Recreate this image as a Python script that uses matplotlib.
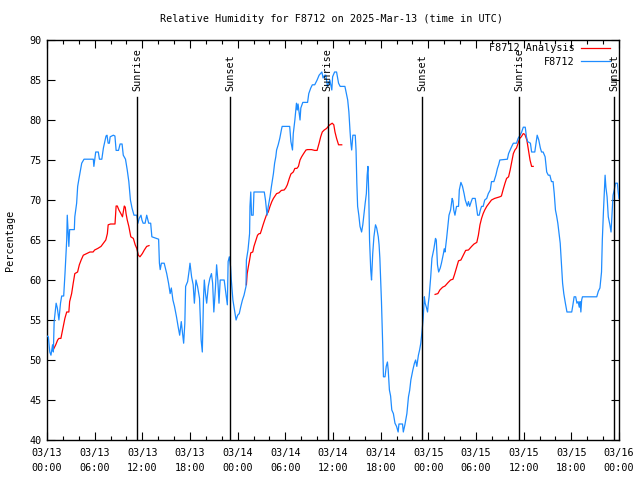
import numpy as np
import pandas as pd
import matplotlib
matplotlib.use('Agg')
import matplotlib.pyplot as plt
import matplotlib.dates as mdates

plt.rcParams['font.family'] = ['DejaVu Sans Mono']
FS = 7.3

start = pd.Timestamp('2025-03-13 00:00')

# observed RH (hours after start, percent)
obs_hours = [0.0, 0.17, 0.35, 0.5, 0.7, 0.8, 0.9, 1.15, 1.3, 1.5, 1.7, 1.85, 2.1, 2.27, 2.48, 2.55,
             2.65, 2.75, 2.85, 3.44, 3.5, 3.73, 3.86, 4.03, 4.37, 4.66, 5.83, 5.9, 6.13, 6.46, 6.6,
             6.9, 7.1, 7.43, 7.55, 7.7, 7.85, 7.95, 8.35, 8.55, 8.7, 9.0, 9.2, 9.45, 9.6, 9.88,
             10.1, 10.3, 10.5, 10.7, 10.95, 11.3, 11.45, 11.6, 11.83, 11.95, 12.1, 12.35, 12.55,
             12.8, 13.05, 13.2, 14.05, 14.15, 14.25, 14.4, 14.75, 15.07, 15.3, 15.5, 15.65, 15.85,
             16.05, 16.3, 16.5, 16.7, 16.9, 17.2, 17.35, 17.45, 17.7, 17.9, 18.0, 18.2, 18.4, 18.55,
             18.75, 18.95, 19.2, 19.4, 19.55, 19.7, 19.8, 19.95, 20.1, 20.3, 20.5, 20.7, 20.85,
             21.0, 21.2, 21.35, 21.5, 21.65, 21.8, 22.3, 22.4, 22.55, 22.7, 22.8, 22.95, 23.1, 23.2,
             23.4, 23.6, 23.8, 24.0, 24.2, 24.4, 24.6, 24.8, 25.05, 25.1, 25.3, 25.5, 25.55, 25.65,
             25.75, 25.95, 26.05, 27.35, 27.5, 27.7, 27.85, 28.07, 28.25, 28.5, 28.65, 28.8, 28.9,
             29.1, 29.3, 29.5, 29.6, 30.55, 30.7, 30.9, 31.0, 31.2, 31.4, 31.5, 31.6, 31.85, 31.95,
             32.2, 32.8, 32.95, 33.2, 33.4, 33.7, 34.0, 34.25, 34.6, 34.75, 34.95, 35.1, 35.3, 35.6,
             35.85, 35.95, 36.2, 36.45, 36.7, 36.9, 37.5, 37.65, 37.85, 38.0, 38.15, 38.25, 38.35,
             38.5, 38.8, 38.9, 39.0, 39.1, 39.25, 39.4, 39.6, 39.75, 39.9, 40.05, 40.2, 40.3, 40.4,
             40.5, 40.6, 40.75, 40.85, 41.0, 41.15, 41.35, 41.5, 41.7, 41.8, 41.9, 42.0, 42.1,
             42.25, 42.35, 42.55, 42.7, 42.85, 42.95, 43.1, 43.25, 43.4, 43.6, 43.8, 44.0, 44.2,
             44.3, 44.75, 44.85, 45.05, 45.3, 45.5, 45.65, 45.8, 46.05, 46.25, 46.4, 46.55, 46.75,
             46.9, 47.05, 47.2, 47.35, 47.5, 47.6, 47.75, 47.9, 48.0, 48.1, 48.3, 48.45, 48.7, 48.9,
             49.0, 49.15, 49.3, 49.5, 49.65, 49.9, 50.0, 50.1, 50.3, 50.45, 50.6, 50.8, 51.0, 51.1,
             51.2, 51.35, 51.55, 51.8, 51.9, 52.1, 52.3, 52.5, 52.65, 52.9, 53.05, 53.2, 53.4,
             53.55, 53.9, 54.05, 54.2, 54.4, 54.55, 54.7, 54.9, 55.1, 55.35, 55.55, 55.8, 55.95,
             56.25, 56.5, 56.7, 56.85, 57.0, 57.95, 58.1, 58.3, 58.5, 58.7, 59.1, 59.3, 59.55,
             59.75, 59.95, 60.2, 60.35, 60.5, 60.85, 61.0, 61.4, 61.55, 61.7, 61.9, 62.1, 62.25,
             62.45, 62.7, 62.9, 63.1, 63.3, 63.5, 63.7, 63.85, 64.0, 64.15, 64.3, 64.4, 64.6, 64.75,
             64.9, 65.05, 65.25, 65.45, 66.05, 66.2, 66.35, 66.55, 66.7, 66.85, 67.0, 67.1, 67.2,
             67.3, 67.4, 69.2, 69.4, 69.6, 69.8, 69.9, 70.05, 70.25, 70.35, 70.5, 70.65, 70.85,
             71.0, 71.15, 71.25, 71.4, 71.55, 71.8, 71.9, 72.0]
obs_rh = [53.0, 52.9, 51.0, 50.6, 51.9, 51.0, 54.8, 57.1, 56.5, 55.0, 57.1, 58.0, 58.0, 60.9, 65.0, 68.1,
          66.2, 64.2, 66.3, 66.3, 67.9, 69.6, 71.7, 72.7, 74.6, 75.1, 75.1, 74.2, 76.0, 76.0, 75.1,
          75.1, 76.5, 78.0, 78.1, 77.1, 77.1, 77.9, 78.1, 78.0, 76.2, 76.2, 77.0, 77.0, 75.6, 75.1,
          73.75, 72.3, 70.0, 69.0, 68.1, 68.1, 67.1, 67.7, 68.1, 67.5, 67.1, 67.1, 68.1,
          67.1, 67.1, 65.4, 65.1, 62.1, 61.3, 62.1, 62.1, 60.8, 59.6, 58.3, 59.0, 57.5,
          56.7, 55.4, 54.2, 53.1, 54.8, 52.1, 54.6, 59.2, 59.8, 61.25, 62.1, 60.4, 59.4, 57.1,
          60.0, 59.2, 57.7, 52.5, 51.0, 57.7, 60.0, 58.3, 57.1, 59.2, 60.2, 60.8, 59.6,
          56.0, 59.0, 61.9, 60.0, 57.1, 60.0, 60.0, 59.2, 58.1, 56.9, 62.3, 62.9, 61.7, 60.0,
          57.5, 56.25, 55.0, 55.6, 55.8, 56.7, 57.5, 58.1, 59.2, 62.5, 63.75, 65.8, 69.2, 71.0,
          68.1, 68.1, 71.0, 71.0, 70.0, 68.1, 69.2, 70.4, 71.7, 73.3, 74.6, 75.4, 76.25,
          76.9, 77.7, 78.75, 79.2, 79.2, 77.3, 76.25, 78.3, 80.0, 82.1, 81.25, 82.0, 80.0, 81.5,
          82.2, 82.2, 83.3, 84.0, 84.4, 84.4, 85.0, 85.6, 86.0, 85.25, 85.6, 85.6, 84.2, 85.0,
          83.75, 85.4, 86.0, 86.0, 84.6, 84.2, 84.2, 83.5, 82.5, 81.0, 78.5, 77.1, 76.25,
          78.1, 78.1, 76.25, 72.1, 69.2, 68.1, 66.7, 66.0, 66.9, 68.3, 69.6, 70.8, 73.1, 74.2,
          70.8, 65.0, 61.25, 60.0, 63.3, 65.4, 66.9, 66.5, 65.4, 64.4, 62.7, 60.0, 57.3,
          52.1, 47.9, 47.9, 49.2, 49.75, 48.75, 46.25, 45.5, 43.75, 43.3, 42.1, 41.7, 41.0,
          42.0, 42.0, 41.0, 41.9, 43.3, 45.4, 46.2, 47.5, 48.75, 49.6, 50.0, 49.2, 50.6,
          51.25, 52.1, 53.5, 55.2, 57.9, 57.1, 56.6, 56.0, 57.1, 57.9, 60.4, 62.7, 63.9, 65.2,
          65.0, 61.9, 61.0, 61.5, 62.1, 63.3, 63.9, 63.5, 65.2, 66.6, 68.1, 68.75, 70.2, 69.9,
          68.75, 68.1, 69.2, 69.2, 71.25, 72.2, 71.7, 70.8, 70.0, 69.25, 69.8, 69.2, 69.8,
          70.2, 70.2, 69.2, 68.1, 68.1, 68.75, 69.2, 69.2, 70.0, 70.2, 70.8, 71.25, 72.3,
          72.3, 73.1, 73.95, 74.4, 75.0, 75.1, 75.8, 76.25, 76.7, 77.1, 77.1, 77.7, 78.1,
          78.5, 79.1, 79.1, 77.9, 77.3, 77.1, 76.0, 76.0, 77.1, 78.1, 77.5, 76.5, 76.0,
          76.0, 75.4, 73.5, 73.1, 73.1, 72.3, 72.3, 70.8, 68.75, 68.0, 67.1, 66.25, 64.6, 62.1,
          59.6, 58.3, 57.1, 56.0, 56.0, 56.9, 57.9, 57.9, 57.1, 57.3, 56.6, 57.3, 56.0,
          57.5, 57.9, 57.9, 58.6, 59.0, 61.0, 65.0, 68.75, 73.1, 71.6, 70.4, 67.9, 66.9,
          66.0, 68.75, 70.6, 71.25, 72.1, 72.1, 71.0, 70.2]

# analysis RH, three runs separated by NaN
ana_hours = [0.8, 1.1, 1.34, 1.5, 1.75, 2.05, 2.25, 2.48, 2.75, 2.85, 3.1, 3.3, 3.5, 3.85, 4.07, 4.3,
             4.57, 5.0, 5.4, 5.8, 6.0, 6.4, 6.8, 7.1, 7.4, 7.6, 7.7, 8.0, 8.56, 8.7, 8.85, 9.05, 9.3,
             9.5, 9.73, 9.85, 9.95, 10.1, 10.3, 10.55, 10.87, 11.1, 11.3, 11.5, 11.7, 12.0, 12.25,
             12.55, 12.84,
             18.0,
             25.1, 25.2, 25.35, 25.5, 25.65, 25.9, 26.05, 26.3, 26.5, 26.7, 26.85, 27.0, 27.2, 27.4,
             27.65, 27.85, 28.07, 28.3, 28.5, 28.7, 28.9, 29.2, 29.5, 29.85, 30.05, 30.25, 30.5,
             30.7, 31.0, 31.2, 31.45, 31.65, 31.85, 32.05, 32.3, 32.6, 32.8, 33.05, 33.3, 33.7,
             34.0, 34.25, 34.45, 34.65, 34.9, 35.2, 35.4, 35.6, 35.9, 36.1, 36.25, 36.45, 36.7, 37.1,
             42.0,
             48.85, 49.2, 49.45, 49.8, 50.1, 50.5, 50.8, 51.1, 51.3, 51.6, 51.8, 52.1, 52.4, 52.7,
             53.05, 53.45, 53.75, 54.1, 54.3, 54.5, 54.7, 54.9, 55.1, 55.35, 55.65, 55.95, 56.35,
             56.7, 57.0, 57.2, 57.4, 57.65, 57.85, 58.1, 58.3, 58.5, 58.7, 58.9, 59.1, 59.3, 59.5,
             59.7, 59.95, 60.15, 60.4, 60.6, 60.8, 61.0, 61.2]
ana_rh = [51.3, 51.9, 52.5, 52.7, 52.7, 54.2, 55.2, 56.0, 56.0, 57.3, 58.3, 59.6, 60.8, 61.0, 61.9, 62.5,
          63.1, 63.3, 63.5, 63.5, 63.75, 63.95, 64.2, 64.6, 65.0, 65.8, 66.9, 67.0, 67.0, 69.25, 69.25,
          68.75, 68.3, 67.9, 69.25, 69.1, 68.3, 67.5, 66.7, 65.4, 65.2, 64.4, 63.95, 63.1, 62.9, 63.3,
          63.75, 64.2, 64.3,
          np.nan,
          59.4, 60.8, 61.7, 62.5, 63.4, 63.5, 64.2, 65.0, 65.6, 65.8, 65.8, 66.25, 66.9, 67.5,
          68.2, 68.5, 69.2, 69.8, 70.2, 70.5, 70.8, 70.9, 71.2, 71.25, 71.5, 71.9, 72.7,
          73.25, 73.5, 73.95, 73.95, 74.2, 75.0, 75.4, 75.8, 76.25, 76.3, 76.3, 76.3, 76.2,
          76.2, 77.1, 77.9, 78.5, 78.75, 78.95, 79.2, 79.4, 79.6, 79.4, 78.5, 77.7, 76.9, 76.9,
          np.nan,
          58.2, 58.3, 58.75, 59.1, 59.25, 59.7, 60.0, 60.1, 60.7, 61.7, 62.4, 62.5, 63.1, 63.7,
          63.75, 64.2, 64.5, 64.7, 65.6, 66.9, 67.7, 68.3, 68.75, 69.2, 69.6, 70.0, 70.2,
          70.3, 70.4, 70.5, 71.25, 72.1, 72.7, 72.9, 73.75, 74.8, 75.8, 76.25, 76.5, 77.1, 77.7,
          77.9, 78.3, 78.2, 77.5, 76.25, 75.0, 74.2, 74.2]

sunrise_hours = [11.33, 35.35, 59.45]
sunset_hours = [23.05, 47.2, 71.4]

to_time = lambda h: start + pd.to_timedelta(h, unit='h')

fig = plt.figure(figsize=(6.4, 4.8), dpi=100)
ax = fig.add_axes([47/640, 40/480, 572/640, 400/480])

ax.plot(to_time(ana_hours), ana_rh, color='#ff0000', lw=0.9, label='F8712 Analysis', zorder=2)
ax.plot(to_time(obs_hours), obs_rh, color='#1e8cff', lw=0.9, label='F8712', zorder=3)

# sunrise / sunset markers
for hrs, name in [(sunrise_hours, 'Sunrise'), (sunset_hours, 'Sunset')]:
    for h in hrs:
        t = to_time(h)
        ax.axvline(t, ymin=0, ymax=(82.9 - 40) / 50, color='black', lw=1.0, zorder=4)
        ax.text(t, 83.6, name, rotation=90, ha='center', va='bottom', fontsize=FS, zorder=5)

ax.set_xlim(start, to_time(72))
ax.set_ylim(40, 90)
ax.set_yticks(np.arange(40, 91, 5))
ax.xaxis.set_major_locator(mdates.HourLocator(byhour=[0, 6, 12, 18]))
ax.xaxis.set_minor_locator(mdates.HourLocator(interval=2))
ax.xaxis.set_major_formatter(mdates.DateFormatter('%m/%d\n%H:%M'))
ax.tick_params(which='both', direction='in', top=True, right=True, labelsize=FS, width=0.8)
ax.tick_params(which='major', length=6, pad=4)
ax.tick_params(axis='x', which='major', pad=6)
ax.tick_params(which='minor', length=3)
for s in ax.spines.values():
    s.set_linewidth(1.0)
plt.setp(ax.get_xticklabels(), linespacing=1.55)

ax.set_ylabel('Percentage', fontsize=FS, labelpad=10)
fig.text(332/640, 1 - 19/480, 'Relative Humidity for F8712 on 2025-Mar-13 (time in UTC)',
         ha='center', va='center', fontsize=FS)

ax.legend(loc='upper right', bbox_to_anchor=(1.0, 1.015), frameon=False, markerfirst=False,
          fontsize=FS, handlelength=2.8, handletextpad=0.7, labelspacing=0.35, borderaxespad=0.5)

fig.savefig('out.png', dpi=100)
